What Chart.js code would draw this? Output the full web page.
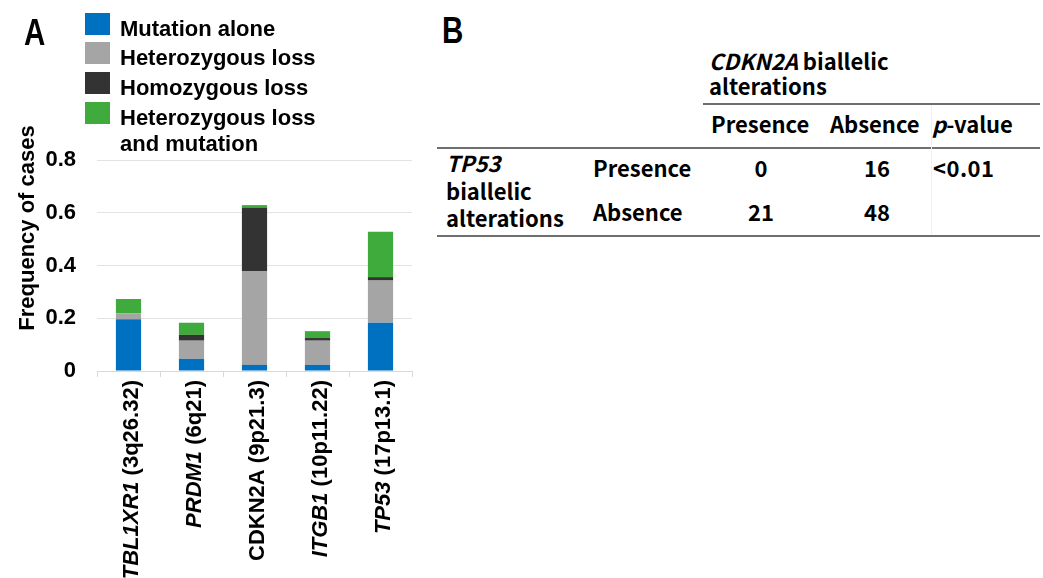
<!DOCTYPE html>
<html>
<head>
<meta charset="utf-8">
<script src="https://cdn.jsdelivr.net/npm/chart.js@4.4.1/dist/chart.umd.min.js"></script>
<style>
  html, body { margin: 0; padding: 0; background: #fff; }
  #wrap { position: relative; width: 1043px; height: 578px; overflow: hidden; }
  #chart { position: absolute; left: 0; top: 0; }
  .t { position: absolute; white-space: nowrap; line-height: 1; color: #000; }
  .bl { display: inline-block; width: 0; height: 0; vertical-align: baseline; }
  .chartfont { font-family: "Liberation Sans", Arial, sans-serif; font-weight: bold; font-size: 22px; }
  .letter { font-family: "Liberation Sans", Arial, sans-serif; font-weight: bold; font-size: 36px; transform: scaleX(0.82); transform-origin: 0 0; }
  .tabfont { font-family: "Noto Sans CJK JP", "Noto Sans", sans-serif; font-weight: bold; font-size: 22px; }
  .sw { position: absolute; width: 25px; height: 22px; }
  .rule { position: absolute; height: 2px; background: #6e6e6e; }
</style>
</head>
<body>
<div id="wrap">
  <canvas id="chart" width="430" height="578"></canvas>
</div>
<script>
// Panel A: frequency of cases per gene
const genes = ["TBL1XR1", "PRDM1", "CDKN2A", "ITGB1", "TP53"];
const loci = ["(3q26.32)", "(6q21)", "(9p21.3)", "(10p11.22)", "(17p13.1)"];
const geneItalic = [true, true, false, true, true];

const mutationAlone = [0.196, 0.046, 0.023, 0.023, 0.183];
const heteroLoss = [0.023, 0.069, 0.356, 0.092, 0.160];
const homoLoss = [0, 0.022, 0.241, 0.010, 0.013];
const heteroLossMutation = [0.054, 0.046, 0.009, 0.026, 0.172];

const seriesNames = ["Mutation alone", "Heterozygous loss", "Homozygous loss", "Heterozygous loss and mutation"];
const seriesColors = ["#0070c0", "#a5a5a5", "#333333", "#3fab3c"];

// Panel B: 2x2 table
const colHeads = ["Presence", "Absence"];
const rowHeads = ["Presence", "Absence"];
const counts = [[0, 16], [21, 48]];
const pValue = "<0.01";

const FONT = '"Liberation Sans", Arial, sans-serif';
const wrap = document.getElementById("wrap");

// put a text block so that its first baseline sits at y
function place(html, x, y, cls, align) {
  const d = document.createElement("div");
  d.className = "t " + cls;
  d.innerHTML = '<span class="bl"></span>' + html;
  wrap.appendChild(d);
  const b = d.querySelector(".bl").offsetTop;
  d.style.top = (y - b) + "px";
  if (align === "center") d.style.left = (x - d.offsetWidth / 2) + "px";
  else d.style.left = x + "px";
  return d;
}

function rule(x1, x2, y) {
  const r = document.createElement("div");
  r.className = "rule";
  r.style.left = x1 + "px";
  r.style.width = (x2 - x1) + "px";
  r.style.top = (y - 1) + "px";
  wrap.appendChild(r);
}

const axisText = {
  id: "axisText",
  afterDraw(chart) {
    const ctx = chart.ctx;
    const xs = chart.scales.x;
    ctx.save();
    ctx.fillStyle = "#000";
    // category labels, rotated, gene names in italics
    genes.forEach((g, i) => {
      const x = xs.getPixelForValue(i);
      ctx.save();
      ctx.translate(x + 3, 380);
      ctx.rotate(-Math.PI / 2);
      ctx.textBaseline = "middle";
      ctx.textAlign = "left";
      const gFont = (geneItalic[i] ? "italic " : "") + "bold 22px " + FONT;
      const lFont = "bold 22px " + FONT;
      ctx.font = gFont;
      const w1 = ctx.measureText(g).width;
      ctx.font = lFont;
      const w2 = ctx.measureText(" " + loci[i]).width;
      const start = -(w1 + w2);
      ctx.font = gFont;
      ctx.fillText(g, start, 0);
      ctx.font = lFont;
      ctx.fillText(" " + loci[i], start + w1, 0);
      ctx.restore();
    });
    // y axis title
    ctx.translate(34, 228);
    ctx.rotate(-Math.PI / 2);
    ctx.textAlign = "center";
    ctx.textBaseline = "alphabetic";
    ctx.font = "bold 22px " + FONT;
    ctx.fillText("Frequency of cases", 0, 0);
    ctx.restore();
  }
};

const seriesData = [mutationAlone, heteroLoss, homoLoss, heteroLossMutation];

const chart = new Chart(document.getElementById("chart"), {
  type: "bar",
  data: {
    labels: genes,
    datasets: seriesNames.map((name, k) => ({
      label: name,
      data: seriesData[k],
      backgroundColor: seriesColors[k],
      borderWidth: 0,
      barPercentage: 0.4,
      categoryPercentage: 1
    }))
  },
  options: {
    responsive: false,
    animation: false,
    layout: { padding: { top: 160, right: 18, left: 0, bottom: 0 } },
    plugins: { legend: { display: false }, tooltip: { enabled: false } },
    scales: {
      x: {
        stacked: true,
        ticks: { display: false },
        grid: { drawOnChartArea: false, drawTicks: true, tickLength: 6, color: "#d9d9d9", offset: true },
        border: { color: "#d9d9d9" },
        afterFit(s) { s.height = 207; }
      },
      y: {
        stacked: true,
        min: 0,
        max: 0.8,
        ticks: { stepSize: 0.2, padding: 21, color: "#000", font: { family: FONT, size: 22, weight: "bold" } },
        grid: { color: "#e3e3e3", drawTicks: false },
        border: { display: false },
        afterFit(s) { s.width = 97; }
      }
    }
  },
  plugins: [axisText]
});

// panel letters
place("A", 24, 45, "letter");
place("B", 442, 43, "letter");

// legend from the chart datasets
chart.data.datasets.forEach((ds, k) => {
  const top = 12.5 + k * 29.8;
  const sw = document.createElement("div");
  sw.className = "sw";
  sw.style.left = "85px";
  sw.style.top = top + "px";
  sw.style.background = ds.backgroundColor;
  wrap.appendChild(sw);
  const d = place(ds.label, 120, top + 21, "chartfont", "left");
  d.style.whiteSpace = "normal";
  d.style.width = "205px";
  d.style.lineHeight = "26px";
});

// panel B
place("<i>CDKN2A</i> biallelic", 709, 70, "tabfont");
place("alterations", 709, 95, "tabfont");
rule(703, 1040, 104);
place(colHeads[0], 760, 133, "tabfont", "center");
place(colHeads[1], 875, 133, "tabfont", "center");
place("<i>p</i>-value", 932, 133, "tabfont");
rule(437, 1040, 148);
place("<i>TP53</i>", 446, 172, "tabfont");
place("biallelic", 446, 200, "tabfont");
place("alterations", 446, 227, "tabfont");
const rowBase = [177, 221];
rowHeads.forEach((r, i) => {
  place(r, 593, rowBase[i], "tabfont");
  place(String(counts[i][0]), 761, rowBase[i], "tabfont", "center");
  place(String(counts[i][1]), 877, rowBase[i], "tabfont", "center");
});
place(pValue.replace("<", "&lt;"), 933, rowBase[0], "tabfont").style.letterSpacing = "0.5px";
rule(437, 1040, 236);
const v = document.createElement("div");
v.style.cssText = "position:absolute;left:931px;top:105px;width:1px;height:130px;background:#f0f0f0;";
wrap.appendChild(v);
</script>
</body>
</html>
